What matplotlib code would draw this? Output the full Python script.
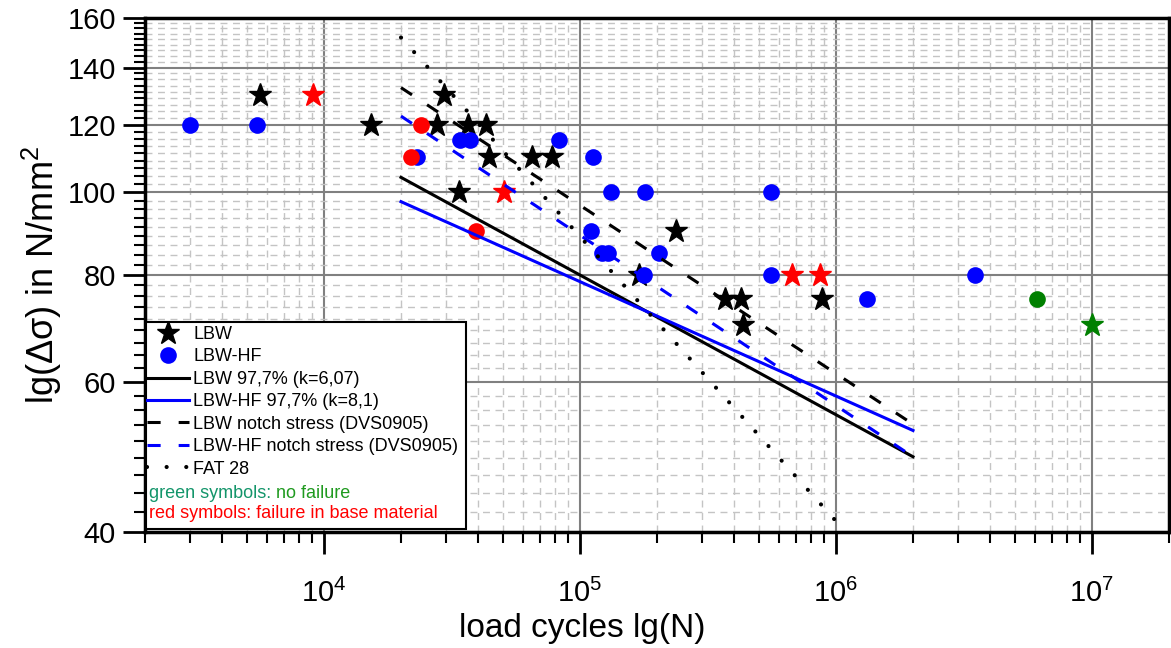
import numpy as np
import matplotlib
matplotlib.use('Agg')
import matplotlib.pyplot as plt
from matplotlib.lines import Line2D
from matplotlib.patches import Rectangle
from matplotlib.ticker import FixedLocator, LogLocator, NullFormatter, FixedFormatter

plt.rcParams['font.family'] = ['Liberation Sans', 'DejaVu Sans']
plt.rcParams['mathtext.fontset'] = 'custom'
plt.rcParams['mathtext.rm'] = 'Liberation Sans'
plt.rcParams['mathtext.it'] = 'Liberation Sans:italic'
plt.rcParams['mathtext.bf'] = 'Liberation Sans:bold'

# ---------------- data ----------------
# LBW (stars), failure in weld
lbw_N = [5650, 15300, 27700, 29500, 33700, 36600, 43000, 44100, 64900, 77700,
         169800, 236600, 367500, 424000, 435400, 885000]
lbw_S = [130, 120, 120, 130, 100, 120, 120, 110, 110, 110,
         80, 90, 75, 75, 70, 75]
# LBW red stars (failure in base material)
lbw_red_N = [9100, 50500, 676000, 869000]
lbw_red_S = [130, 100, 80, 80]
# LBW green star (no failure)
lbw_green_N = [1.0e7]
lbw_green_S = [70]

# LBW-HF (circles)
hf_N = [3010, 5500, 23100, 34000, 37200, 82800, 112300, 110200, 121700, 128500,
        131900, 179000, 203100, 177400, 560000, 560000, 1325000, 3500000]
hf_S = [120, 120, 110, 115, 115, 115, 110, 90, 85, 85,
        100, 100, 85, 80, 100, 80, 75, 80]
hf_red_N = [21900, 23980, 39300]
hf_red_S = [110, 120, 90]
hf_green_N = [6.1e6]
hf_green_S = [75]

# S-N lines (values at N = 2e4 and N = 2e6)
line_N = [2e4, 2e6]
lbw_977_S = [104.1, 49.0]
hf_977_S = [97.5, 52.6]
lbw_notch_S = [132.6, 53.5]
hf_notch_S = [122.8, 49.0]
fat28_S = [151.8, 32.7]

x_ticks = [1e4, 1e5, 1e6, 1e7]
x_ticklabels = [r'$\mathregular{10^{4}}$', r'$\mathregular{10^{5}}$',
                r'$\mathregular{10^{6}}$', r'$\mathregular{10^{7}}$']
y_ticks = [40, 60, 80, 100, 120, 140, 160]
y_ticklabels = ['40', '60', '80', '100', '120', '140', '160']

# ---------------- figure ----------------
W, H = 1171, 648
fig = plt.figure(figsize=(W / 100, H / 100), dpi=100)
ax = fig.add_axes([145 / W, 1 - 532 / H, 1024 / W, 514 / H])
ax.set_xscale('log')
ax.set_yscale('log')
ax.set_xlim(2000, 2e7)
ax.set_ylim(40, 160)

ax.xaxis.set_major_locator(FixedLocator(x_ticks))
ax.xaxis.set_major_formatter(FixedFormatter(x_ticklabels))
ax.xaxis.set_minor_locator(LogLocator(base=10, subs=np.arange(2, 10)))
ax.xaxis.set_minor_formatter(NullFormatter())
ax.yaxis.set_major_locator(FixedLocator(y_ticks))
ax.yaxis.set_major_formatter(FixedFormatter(y_ticklabels))
y_minor = [a + (b - a) * i / 9 for a, b in zip(y_ticks[:-1], y_ticks[1:]) for i in range(1, 9)]
ax.yaxis.set_minor_locator(FixedLocator(y_minor))
ax.yaxis.set_minor_formatter(NullFormatter())

ax.set_axisbelow(True)
ax.grid(which='major', color='#808080', lw=1.5, ls='-')
ax.grid(which='minor', color='#c4c4c4', lw=1.0, ls=(0, (5, 4)))

ax.tick_params(which='major', direction='out', length=16, width=2, labelsize=21,
               top=False, right=False)
ax.tick_params(which='minor', direction='out', length=8, width=1.5,
               top=False, right=False)
ax.tick_params(axis='x', which='major', pad=18)
ax.tick_params(axis='y', which='major', pad=5)
for sp in ax.spines.values():
    sp.set_linewidth(2.5)

ax.set_xlabel('load cycles lg(N)', fontsize=24)
ax.xaxis.set_label_coords((582 - 145) / 1024, (532 - 613) / 514)
ax.set_ylabel(r'lg(Δσ) in N/mm$\mathregular{^2}$', fontsize=26)
ax.yaxis.set_label_coords((64 - 145) / 1024, 0.5)

# markers
ms_star = 17
ms_circ = 12
ax.plot(lbw_N, lbw_S, ls='none', marker='*', ms=ms_star, color='black', mec='black', zorder=3)
ax.plot(hf_N, hf_S, ls='none', marker='o', ms=ms_circ, color='blue', mec='none', zorder=3)
ax.plot(hf_red_N, hf_red_S, ls='none', marker='o', ms=ms_circ, color='red', mec='none', zorder=3)
ax.plot(lbw_red_N, lbw_red_S, ls='none', marker='*', ms=ms_star, color='red', mec='red', zorder=3)
ax.plot(hf_green_N, hf_green_S, ls='none', marker='o', ms=ms_circ, color='green', mec='none', zorder=3)
ax.plot(lbw_green_N, lbw_green_S, ls='none', marker='*', ms=ms_star, color='green', mec='green', zorder=3)

# lines
lw = 2.2
dash = (4.3, 5.9)
dot = (0.01, 4.7)
ax.plot(line_N, lbw_977_S, color='black', lw=lw, zorder=4)
ax.plot(line_N, hf_977_S, color='blue', lw=lw, zorder=4)
ax.plot(line_N, lbw_notch_S, color='black', lw=lw, dashes=dash, zorder=4)
ax.plot(line_N, hf_notch_S, color='blue', lw=lw, dashes=dash, zorder=4)
ax.plot(line_N, fat28_S, color='black', lw=3.0, dashes=dot,
        dash_capstyle='round', zorder=4)

# legend
handles = [
    Line2D([], [], ls='none', marker='*', ms=ms_star, color='black'),
    Line2D([], [], ls='none', marker='o', ms=ms_circ, color='blue', mec='none'),
    Line2D([], [], color='black', lw=lw),
    Line2D([], [], color='blue', lw=lw),
    Line2D([], [], color='black', lw=lw, dashes=dash),
    Line2D([], [], color='blue', lw=lw, dashes=dash),
    Line2D([], [], color='black', lw=3.0, dashes=dot, dash_capstyle='round'),
]
labels = ['LBW', 'LBW-HF', 'LBW 97,7% (k=6,07)', 'LBW-HF 97,7% (k=8,1)',
          'LBW notch stress (DVS0905)', 'LBW-HF notch stress (DVS0905)', 'FAT 28']

def ax_xy(px, py):
    return ((px - 145) / 1024, (532 - py) / 514)

lx, ly = ax_xy(147, 326)
leg = ax.legend(handles, labels, loc='upper left', bbox_to_anchor=(lx, ly),
                frameon=False, fontsize=13, handlelength=2.3, handletextpad=0.25,
                labelspacing=0.30, borderaxespad=0, borderpad=0, markerscale=1)
leg.set_zorder(6)

x0, y0 = ax_xy(146, 529)
x1, y1 = ax_xy(466, 322)
ax.add_patch(Rectangle((x0, y0), x1 - x0, y1 - y0, transform=ax.transAxes,
                       facecolor='white', edgecolor='black', lw=1.5, zorder=5))

tx, ty = ax_xy(149, 493)
t1 = ax.text(tx, ty, 'green symbols: ', transform=ax.transAxes, fontsize=13,
             color='#13956a', va='center', ha='left', zorder=7)
ax.annotate('no failure', xy=(1, 0.5), xycoords=t1, va='center', ha='left',
            fontsize=13, color='#1f9a1f', zorder=7)
tx, ty = ax_xy(149, 514)
ax.text(tx, ty, 'red symbols: failure in base material', transform=ax.transAxes,
        fontsize=13, color='red', va='center', ha='left', zorder=7)

fig.savefig('out.png', dpi=100)
